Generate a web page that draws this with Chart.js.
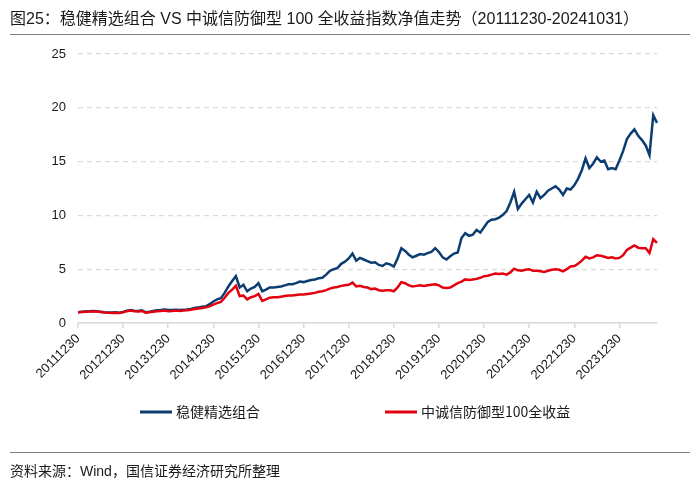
<!DOCTYPE html>
<html>
<head>
<meta charset="utf-8">
<script src="https://cdn.jsdelivr.net/npm/chart.js@4/dist/chart.umd.min.js"></script>
<style>
  html, body { margin: 0; padding: 0; background: #fff; }
  #wrap { position: relative; width: 700px; height: 483px; overflow: hidden;
          font-family: "Liberation Sans", "Noto Sans CJK SC", sans-serif; color: #1a1a1a; }
  #title { position: absolute; left: 10px; top: 5px; font-size: 16px; white-space: nowrap; }
  .rule { position: absolute; left: 10px; right: 10px; border-top: 1.5px solid #808080; }
  #source { position: absolute; left: 10px; top: 460px; font-size: 14px; white-space: nowrap; }
  canvas { position: absolute; left: 0; top: 0; }
</style>
</head>
<body>
<div id="wrap">
  <canvas id="chart" width="700" height="483"></canvas>
  <div id="title">图25：稳健精选组合 VS 中诚信防御型 100 全收益指数净值走势（20111230-20241031）</div>
  <div class="rule" style="top:34px"></div>
  <div class="rule" style="top:452px"></div>
  <div id="source">资料来源：Wind，国信证券经济研究所整理</div>
</div>
<script>
// month-end net values, Dec 2011 .. Oct 2024
const START_YEAR = 2011, START_MONTH = 12, N_MONTHS = 155;
const TICK_LABELS = ['20111230', '20121230', '20131230', '20141230', '20151230', '20161230', '20171230',
  '20181230', '20191230', '20201230', '20211230', '20221230', '20231230'];
const SERIES_NAMES = ['稳健精选组合', '中诚信防御型100全收益'];

const portfolio = [
  1.00,
  1.05, 1.08, 1.10, 1.12, 1.10, 1.05, 1.00, 0.98, 0.97, 0.99, 0.95, 1.03,
  1.15, 1.20, 1.15, 1.12, 1.18, 1.00, 1.05, 1.12, 1.18, 1.20, 1.25, 1.20,
  1.20, 1.22, 1.20, 1.22, 1.25, 1.30, 1.40, 1.45, 1.50, 1.55, 1.75, 2.00,
  2.20, 2.30, 2.80, 3.40, 3.90, 4.35, 3.30, 3.55, 2.95, 3.20, 3.35, 3.70,
  2.95, 3.10, 3.30, 3.30, 3.35, 3.40, 3.50, 3.60, 3.60, 3.70, 3.85, 3.80,
  3.90, 4.00, 4.05, 4.15, 4.20, 4.50, 4.85, 5.00, 5.10, 5.50, 5.70, 6.00,
  6.45, 5.80, 6.05, 5.90, 5.75, 5.60, 5.65, 5.40, 5.30, 5.55, 5.45, 5.25,
  6.00, 6.95, 6.70, 6.35, 6.10, 6.25, 6.40, 6.35, 6.50, 6.60, 6.95, 6.60,
  6.10, 5.90, 6.20, 6.45, 6.55, 7.90, 8.35, 8.10, 8.20, 8.65, 8.40, 8.90,
  9.40, 9.60, 9.65, 9.80, 10.05, 10.40, 11.20, 12.20, 10.60, 11.10, 11.50, 11.90,
  11.20, 12.20, 11.60, 11.90, 12.30, 12.50, 12.70, 12.40, 11.90, 12.50, 12.40, 12.80,
  13.40, 14.20, 15.30, 14.40, 14.80, 15.40, 15.00, 15.10, 14.30, 14.40, 14.30, 15.10,
  16.00, 17.10, 17.60, 18.00, 17.40, 17.00, 16.50, 15.60, 19.30, 18.60
];

const defensiveIndex = [
  1.00,
  1.02, 1.05, 1.06, 1.08, 1.06, 1.02, 0.98, 0.95, 0.94, 0.96, 0.92, 0.99,
  1.10, 1.15, 1.10, 1.08, 1.12, 0.95, 1.00, 1.05, 1.10, 1.12, 1.15, 1.10,
  1.12, 1.15, 1.12, 1.15, 1.18, 1.22, 1.30, 1.35, 1.40, 1.45, 1.55, 1.70,
  1.85, 1.95, 2.35, 2.80, 3.10, 3.45, 2.50, 2.55, 2.20, 2.40, 2.50, 2.70,
  2.05, 2.20, 2.35, 2.40, 2.40, 2.45, 2.50, 2.55, 2.55, 2.60, 2.65, 2.65,
  2.70, 2.75, 2.80, 2.90, 2.95, 3.05, 3.20, 3.30, 3.35, 3.45, 3.50, 3.55,
  3.75, 3.40, 3.45, 3.35, 3.30, 3.15, 3.20, 3.05, 3.00, 3.05, 3.05, 2.95,
  3.30, 3.80, 3.70, 3.50, 3.40, 3.45, 3.50, 3.45, 3.50, 3.55, 3.60, 3.50,
  3.30, 3.25, 3.30, 3.50, 3.70, 3.85, 4.05, 4.00, 4.05, 4.10, 4.20, 4.35,
  4.40, 4.50, 4.60, 4.55, 4.60, 4.50, 4.70, 5.05, 4.90, 4.85, 4.95, 5.00,
  4.85, 4.85, 4.80, 4.75, 4.85, 4.95, 5.00, 4.95, 4.80, 5.00, 5.25, 5.30,
  5.50, 5.80, 6.15, 6.00, 6.10, 6.30, 6.25, 6.15, 6.05, 6.10, 6.00, 6.05,
  6.30, 6.80, 7.00, 7.20, 7.00, 6.95, 6.95, 6.50, 7.80, 7.45
];

const BLUE = '#0c3d71';
const RED = '#e3000f';
const FONT = '"Liberation Sans", "Noto Sans CJK SC", sans-serif';

// one category per month; only the December ones get a tick
const months = [];
for (let i = 0; i < N_MONTHS; i++) {
  const m = (START_MONTH - 1 + i) % 12 + 1;
  const y = START_YEAR + Math.floor((START_MONTH - 1 + i) / 12);
  months.push(y + String(m).padStart(2, '0'));
}

// hand-placed legend under the axis labels, like the original
const legendLines = {
  id: 'legendLines',
  afterDraw(chart) {
    const ctx = chart.ctx;
    const items = [
      { x: 140, color: BLUE, text: SERIES_NAMES[0] },
      { x: 385, color: RED, text: SERIES_NAMES[1] }
    ];
    ctx.save();
    ctx.font = '14px "Noto Sans CJK SC", sans-serif';
    ctx.textBaseline = 'middle';
    items.forEach(it => {
      ctx.strokeStyle = it.color;
      ctx.lineWidth = 3;
      ctx.beginPath();
      ctx.moveTo(it.x, 412);
      ctx.lineTo(it.x + 32, 412);
      ctx.stroke();
      ctx.fillStyle = '#1a1a1a';
      ctx.fillText(it.text, it.x + 36, 412);
    });
    ctx.restore();
  }
};

new Chart(document.getElementById('chart'), {
  type: 'line',
  data: {
    labels: months,
    datasets: [
      { label: SERIES_NAMES[0], data: portfolio, borderColor: BLUE, backgroundColor: BLUE,
        borderWidth: 2.5, pointRadius: 0, tension: 0, order: 1 },
      { label: SERIES_NAMES[1], data: defensiveIndex, borderColor: RED, backgroundColor: RED,
        borderWidth: 2.5, pointRadius: 0, tension: 0, order: 0 }
    ]
  },
  options: {
    responsive: false,
    animation: false,
    layout: { padding: { left: 38, right: 43, top: 54, bottom: 0 } },
    plugins: { legend: { display: false }, tooltip: { enabled: false } },
    scales: {
      x: {
        grid: { drawOnChartArea: false, drawTicks: true, tickLength: 5, color: '#d9d9d9', lineWidth: 1.5 },
        border: { color: '#d9d9d9', width: 1.5 },
        ticks: {
          autoSkip: false, minRotation: 45, maxRotation: 45, padding: 3,
          color: '#1a1a1a', font: { size: 13, family: FONT },
          callback(v, i) {
            return i % 12 === 0 ? TICK_LABELS[i / 12] : null;
          }
        },
        afterFit(scale) { scale.height = 160; }
      },
      y: {
        min: 0, max: 25,
        ticks: { stepSize: 5, padding: 12, color: '#1a1a1a', font: { size: 13, family: FONT } },
        grid: { color: '#d9d9d9', drawTicks: false, lineWidth: 1.2 },
        border: { display: false, dash: [5, 4] },
        afterFit(scale) { scale.width = 40; }
      }
    }
  },
  plugins: [legendLines]
});
</script>
</body>
</html>
